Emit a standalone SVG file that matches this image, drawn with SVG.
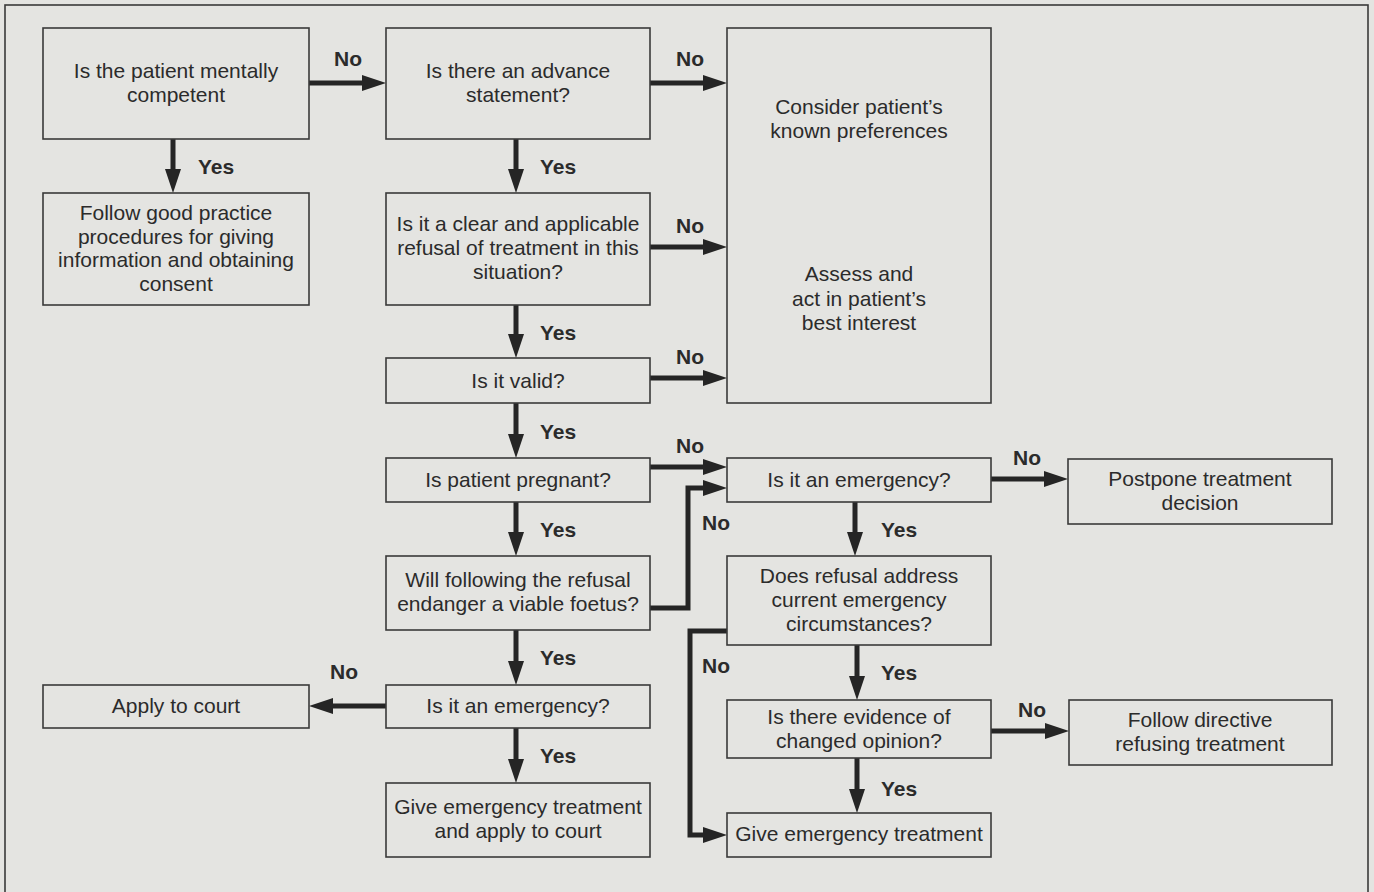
<svg xmlns="http://www.w3.org/2000/svg" width="1374" height="892" viewBox="0 0 1374 892">
<style>
.bg{fill:#e4e4e1}
.box{fill:#e4e4e1;stroke:#3a3a3a;stroke-width:1.6}
.t{font-family:"Liberation Sans",Arial,sans-serif;font-size:21px;fill:#2b2b2b;text-anchor:middle}
.lbl{font-family:"Liberation Sans",Arial,sans-serif;font-size:21px;font-weight:bold;fill:#2b2b2b;text-anchor:middle}
.c{fill:none;stroke:#252525;stroke-width:5;marker-end:url(#ah)}
</style>
<defs>
<marker id="ah" markerUnits="userSpaceOnUse" markerWidth="24" markerHeight="16" refX="12" refY="8" orient="auto" viewBox="0 0 24 16">
<path d="M0,0 L24,8 L0,16 z" fill="#252525"/>
</marker>
</defs>
<rect class="bg" x="0" y="0" width="1374" height="892"/>
<rect x="5" y="5" width="1363" height="890" fill="none" stroke="#3a3a3a" stroke-width="1.6"/>

<g id="connectors">
<path class="c" d="M309,83 H374"/>
<path class="c" d="M173,139 V181"/>
<path class="c" d="M650,83 H715"/>
<path class="c" d="M516,139 V181"/>
<path class="c" d="M650,247 H715"/>
<path class="c" d="M516,305 V346"/>
<path class="c" d="M650,378 H715"/>
<path class="c" d="M516,403 V446"/>
<path class="c" d="M650,467 H715"/>
<path class="c" d="M650,608 H688 V488 H715"/>
<path class="c" d="M516,502 V544"/>
<path class="c" d="M516,630 V673"/>
<path class="c" d="M386,706 H321"/>
<path class="c" d="M516,728 V771"/>
<path class="c" d="M991,479 H1056"/>
<path class="c" d="M855,502 V544"/>
<path class="c" d="M727,631 H690 V835 H715"/>
<path class="c" d="M857,645 V688"/>
<path class="c" d="M991,731 H1057"/>
<path class="c" d="M857,758 V801"/>
<text class="lbl" x="348" y="66">No</text>
<text class="lbl" x="216" y="174">Yes</text>
<text class="lbl" x="690" y="66">No</text>
<text class="lbl" x="558" y="174">Yes</text>
<text class="lbl" x="690" y="233">No</text>
<text class="lbl" x="558" y="340">Yes</text>
<text class="lbl" x="690" y="364">No</text>
<text class="lbl" x="558" y="439">Yes</text>
<text class="lbl" x="690" y="453">No</text>
<text class="lbl" x="558" y="537">Yes</text>
<text class="lbl" x="716" y="530">No</text>
<text class="lbl" x="558" y="665">Yes</text>
<text class="lbl" x="344" y="679">No</text>
<text class="lbl" x="558" y="763">Yes</text>
<text class="lbl" x="1027" y="465">No</text>
<text class="lbl" x="899" y="537">Yes</text>
<text class="lbl" x="716" y="673">No</text>
<text class="lbl" x="899" y="680">Yes</text>
<text class="lbl" x="1032" y="717">No</text>
<text class="lbl" x="899" y="796">Yes</text>
</g>

<g id="n1"><rect class="box" x="43" y="28" width="266" height="111"/>
<text class="t" x="176" y="78">Is the patient mentally</text><text class="t" x="176" y="102">competent</text></g>
<g id="n2"><rect class="box" x="43" y="193" width="266" height="112"/>
<text class="t" x="176" y="220">Follow good practice</text><text class="t" x="176" y="244">procedures for giving</text><text class="t" x="176" y="267">information and obtaining</text><text class="t" x="176" y="291">consent</text></g>
<g id="n3"><rect class="box" x="386" y="28" width="264" height="111"/>
<text class="t" x="518" y="78">Is there an advance</text><text class="t" x="518" y="102">statement?</text></g>
<g id="n4"><rect class="box" x="386" y="193" width="264" height="112"/>
<text class="t" x="518" y="231">Is it a clear and applicable</text><text class="t" x="518" y="255">refusal of treatment in this</text><text class="t" x="518" y="279">situation?</text></g>
<g id="n5"><rect class="box" x="386" y="358" width="264" height="45"/>
<text class="t" x="518" y="388">Is it valid?</text></g>
<g id="n6"><rect class="box" x="386" y="458" width="264" height="44"/>
<text class="t" x="518" y="487">Is patient pregnant?</text></g>
<g id="n7"><rect class="box" x="386" y="556" width="264" height="74"/>
<text class="t" x="518" y="587">Will following the refusal</text><text class="t" x="518" y="611">endanger a viable foetus?</text></g>
<g id="n8"><rect class="box" x="386" y="685" width="264" height="43"/>
<text class="t" x="518" y="713">Is it an emergency?</text></g>
<g id="n9"><rect class="box" x="386" y="783" width="264" height="74"/>
<text class="t" x="518" y="814">Give emergency treatment</text><text class="t" x="518" y="838">and apply to court</text></g>
<g id="n10"><rect class="box" x="43" y="685" width="266" height="43"/>
<text class="t" x="176" y="713">Apply to court</text></g>
<g id="n11"><rect class="box" x="727" y="28" width="264" height="375"/>
<text class="t" x="859" y="114">Consider patient’s</text><text class="t" x="859" y="138">known preferences</text>
<text class="t" x="859" y="281">Assess and</text><text class="t" x="859" y="306">act in patient’s</text><text class="t" x="859" y="330">best interest</text></g>
<g id="n12"><rect class="box" x="727" y="458" width="264" height="44"/>
<text class="t" x="859" y="487">Is it an emergency?</text></g>
<g id="n13"><rect class="box" x="727" y="556" width="264" height="89"/>
<text class="t" x="859" y="583">Does refusal address</text><text class="t" x="859" y="607">current emergency</text><text class="t" x="859" y="631">circumstances?</text></g>
<g id="n14"><rect class="box" x="727" y="700" width="264" height="58"/>
<text class="t" x="859" y="724">Is there evidence of</text><text class="t" x="859" y="748">changed opinion?</text></g>
<g id="n15"><rect class="box" x="727" y="813" width="264" height="44"/>
<text class="t" x="859" y="841">Give emergency treatment</text></g>
<g id="n16"><rect class="box" x="1068" y="459" width="264" height="65"/>
<text class="t" x="1200" y="486">Postpone treatment</text><text class="t" x="1200" y="510">decision</text></g>
<g id="n17"><rect class="box" x="1069" y="700" width="263" height="65"/>
<text class="t" x="1200" y="727">Follow directive</text><text class="t" x="1200" y="751">refusing treatment</text></g>
</svg>
